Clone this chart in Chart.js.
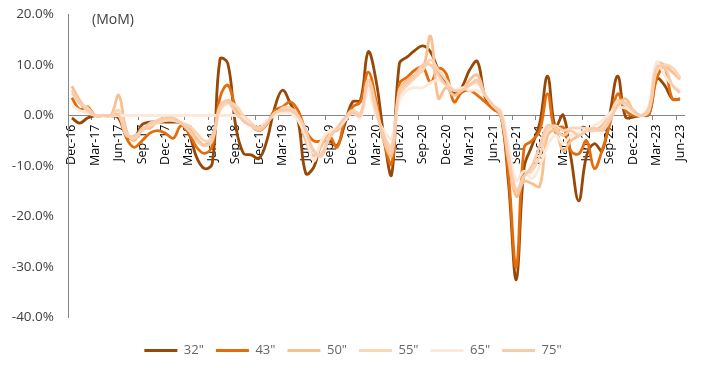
<!DOCTYPE html>
<html>
<head>
<meta charset="utf-8">
<script src="https://cdn.jsdelivr.net/npm/chart.js@4"></script>
<style>
  html, body { margin: 0; padding: 0; background: #fff; }
  #wrap { width: 701px; height: 368px; position: relative; }
</style>
</head>
<body>
<div id="wrap"><canvas id="tvChart" width="701" height="368"></canvas></div>
<script>
const months = [
  'Dec-16','Jan-17','Feb-17','Mar-17','Apr-17','May-17','Jun-17','Jul-17','Aug-17','Sep-17','Oct-17','Nov-17',
  'Dec-17','Jan-18','Feb-18','Mar-18','Apr-18','May-18','Jun-18','Jul-18','Aug-18','Sep-18','Oct-18','Nov-18',
  'Dec-18','Jan-19','Feb-19','Mar-19','Apr-19','May-19','Jun-19','Jul-19','Aug-19','Sep-19','Oct-19','Nov-19',
  'Dec-19','Jan-20','Feb-20','Mar-20','Apr-20','May-20','Jun-20','Jul-20','Aug-20','Sep-20','Oct-20','Nov-20',
  'Dec-20','Jan-21','Feb-21','Mar-21','Apr-21','May-21','Jun-21','Jul-21','Aug-21','Sep-21','Oct-21','Nov-21',
  'Dec-21','Jan-22','Feb-22','Mar-22','Apr-22','May-22','Jun-22','Jul-22','Aug-22','Sep-22','Oct-22','Nov-22',
  'Dec-22','Jan-23','Feb-23','Mar-23','Apr-23','May-23','Jun-23'
];

// MoM change, %
const s32 = [
  -0.5, -1.5, -0.5, 0, 0, 0, -0.5, -4, -4.5, -1.8, -1.3, -1.3,
  -1.3, -1.3, -1.5, -3.5, -8.3, -10.5, -9.5, 11.2, 10.3, -2, -7.5, -7.8,
  -8.5, -5, 1.5, 5, 2.4, -1, -11.5, -10.3, -5.6, -5, -6, -1.7,
  2.7, 3, 12.6, 7, -4, -11.7, 10.3, 11.6, 12.9, 13.8, 12.6, 9,
  6.6, 4.6, 5.6, 9, 10.7, 3.6, 1.7, 0.3, -13.5, -32.5, -10.3, -6,
  -1.5, 7.8, -2.3, 0.1, -8.3, -16.9, -8, -5.6, -7, 0.4, 7.8, -0.3,
  -0.3, 0, 0.2, 7.3, 6, 3.3, 3.3
];
const s43 = [
  3.5, 1.2, 1.7, 0, 0, 0, 0, -4.5, -6.3, -5, -3.5, -3,
  -3.5, -4.5, -2, -3.5, -6.3, -7.5, -6, 3.6, 6, 1.7, -1, -2,
  -3, -1.7, 1, 1.7, 2.7, 1, -3, -5, -5, -4, -6.3, -1,
  1.7, 2.7, 8.6, 3, -5, -9.6, 6.3, 7.6, 9, 9.6, 6.6, 9.3,
  8.3, 2.7, 4.6, 5, 4, 2.7, 1.3, 0, -12, -30, -6.3, -5,
  -3, 4.3, -3.3, -2.3, -7, -7.6, -5, -10.5, -6.9, -1.6, 4.3, 1,
  0, 0, 0.3, 7.3, 9.6, 3.3, 3.2
];
const s50 = [
  5.8, 3, 1, 0, 0, 0, 4, -3, -5, -2.5, -2.5, -1,
  -0.5, -0.5, -1.5, -2.5, -4.5, -5.8, -4, 1.5, 3, 1.5, -1, -2,
  -3, -1.5, 0.5, 1, 1, -0.5, -5, -8, -6, -3, -3, -1,
  1, 0, 7, 2, -5, -8, 5, 7, 8, 9, 15.7, 3.4,
  5.5, 4, 5, 7, 8, 4, 2, 0, -9, -16, -13, -13.5,
  -14, -4, -3, -7, -5, -4, -3, -3, -2, 0, 2, 3.3,
  1, 0, 1, 10.3, 10, 8.6, 7.2
];
const s55 = [
  4.5, 2.5, 1.5, 0, 0, 0, 1, -3.5, -4.5, -3, -2, -1.5,
  -1, -1, -1.5, -2, -3.5, -5, -4.5, 1, 2.5, 2, 0, -1.5,
  -2.5, -1, 0, 1.5, 1.5, 0, -4, -7, -7.5, -4, -2.5, -0.5,
  1, 0.5, 6, 1, -4, -6, 4, 6, 7.5, 9, 11, 9,
  7, 5, 5, 6, 6.5, 4, 2, 0.5, -7, -14.8, -12, -11,
  -8, -3, -2, -3, -2.5, -2.5, -2.5, -3, -2.5, 0, 3, 2,
  1, 0, 1, 9, 10, 9.5, 7.5
];
const s65 = [
  2, 1, 0.5, 0, 0, 0, 0, 0, 0, 0, 0, 0,
  0, 0, 0, 0, 0, 0, 0, 0, 0, 0, -0.5, -2,
  -2.5, -1, 0, 0.5, 0.5, -1, -4, -9, -5, -3, -2.5, -1,
  0.5, -0.5, 5, 0, -3, -4.5, 3, 5, 5.5, 5.5, 6.5, 7,
  6, 5, 5.5, 5, 5, 4, 2, 1, -6, -12.9, -11, -12.5,
  -10, -6, -4, -5.5, -4, -3.5, -3, -2, -1, 0.5, 1.5, 1.5,
  0.5, 0, 2, 10.6, 8, 6, 5
];
const s75 = [
  5, 2.5, 1, 0, 0, 0, 0, -4, -4, -3, -1.5, -1,
  -0.5, -0.5, -1.5, -3, -5, -6, -5, 2, 2.7, 0.5, -1, -2,
  -2.5, -1.5, 0.5, 1, 1, 0, -3, -7, -8, -4.5, -2.5, -0.5,
  0.5, 0, 7, 1, -4, -7, 5, 6.5, 8, 10, 10, 8,
  6, 5, 5, 6, 7, 4, 2, 0.5, -8, -15, -12, -10,
  -6, -2, -2.5, -4, -3, -4, -3, -2.5, -3, -1, 2, 2.5,
  1, 0, 1.5, 9.5, 9.5, 6, 4.5
];

const seriesNames = ['32"', '43"', '50"', '55"', '65"', '75"'];
const seriesData = [s32, s43, s50, s55, s65, s75];
const seriesColors = ['#974706', '#e46c0a', '#fabf8f', '#fcd5b4', '#fde9d9', '#f8cbad'];

const axisGray = '#868686';
const font = 'Open Sans';

const momLabel = {
  id: 'momLabel',
  afterDraw(chart) {
    const ctx = chart.ctx;
    ctx.save();
    ctx.font = `14px "${font}"`;
    ctx.fillStyle = '#404040';
    ctx.textBaseline = 'middle';
    ctx.fillText('(MoM)', 92, 20);
    ctx.restore();
  }
};

new Chart(document.getElementById('tvChart'), {
  type: 'line',
  data: {
    labels: months,
    datasets: seriesData.map((d, i) => ({
      label: seriesNames[i],
      data: d,
      borderColor: seriesColors[i],
      backgroundColor: seriesColors[i],
      borderWidth: 2.8,
      tension: 0.4,
      pointRadius: 0,
      fill: false,
      order: 6 - i
    }))
  },
  options: {
    responsive: false,
    animation: false,
    layout: { padding: { left: 10, right: 5, top: 14.5, bottom: 1 } },
    plugins: {
      tooltip: { enabled: false },
      legend: {
        position: 'bottom',
        title: { display: true, text: '', font: { size: 10 }, padding: { top: 0, bottom: 2.5 } },
        labels: {
          boxWidth: 33,
          boxHeight: 3,
          padding: 12,
          color: '#404040',
          font: { family: font, size: 13 },
          sort: (a, b) => a.datasetIndex - b.datasetIndex,
          generateLabels: (chart) => chart.data.datasets.map((ds, i) => ({
            text: ds.label,
            fillStyle: ds.borderColor,
            strokeStyle: ds.borderColor,
            lineWidth: 0,
            datasetIndex: i,
            hidden: false
          }))
        }
      }
    },
    scales: {
      x: {
        position: { y: 0 },
        offset: true,
        grid: {
          display: true,
          offset: true,
          drawOnChartArea: false,
          drawTicks: true,
          tickLength: 4,
          color: (c) => (c.index % 3 === 0 ? axisGray : 'rgba(0,0,0,0)')
        },
        border: { display: true, color: axisGray, width: 1 },
        ticks: {
          autoSkip: false,
          minRotation: 90,
          maxRotation: 90,
          padding: 5,
          color: '#000',
          font: { family: font, size: 12.5 },
          callback: (v, i) => (i % 3 === 0 ? months[i] : '')
        }
      },
      y: {
        min: -40,
        max: 20,
        afterFit: (s) => { s.width = 58; s.paddingTop = 4; s.paddingBottom = 4; },
        grid: { display: false, drawTicks: false },
        border: { display: true, color: axisGray, width: 1 },
        ticks: {
          stepSize: 10,
          padding: 14,
          color: '#404040',
          font: { family: font, size: 13.5 },
          callback: (v) => v.toFixed(1) + '%'
        }
      },
      yPad: {
        position: 'right',
        min: 0,
        max: 1,
        afterFit: (s) => { s.width = 12; },
        grid: { display: false, drawTicks: false },
        border: { display: false },
        ticks: { display: false }
      }
    }
  },
  plugins: [momLabel]
});
</script>
</body>
</html>
